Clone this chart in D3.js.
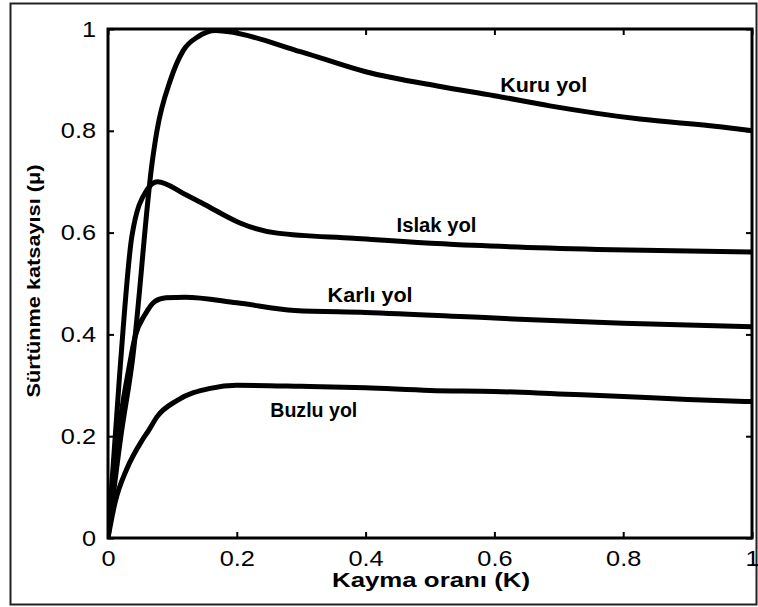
<!DOCTYPE html>
<html>
<head>
<meta charset="utf-8">
<script src="https://cdn.jsdelivr.net/npm/d3@7/dist/d3.min.js"></script>
<style>
  html, body { margin: 0; padding: 0; background: #fff; }
  svg { display: block; }
  text { font-family: "Liberation Sans", Arial, sans-serif; fill: #000; }
</style>
</head>
<body>
<script>
// ---- data ----
const xTicks = [0, 0.2, 0.4, 0.6, 0.8, 1];
const yTicks = [0, 0.2, 0.4, 0.6, 0.8, 1];
const xTickLabels = ["0", "0.2", "0.4", "0.6", "0.8", "1"];
const yTickLabels = ["0", "0.2", "0.4", "0.6", "0.8", "1"];

const seriesNames = ["Kuru yol", "Islak yol", "Karlı yol", "Buzlu yol"];

const kuruX  = [0, 0.02, 0.038, 0.069, 0.076, 0.097, 0.117, 0.14, 0.167, 0.185, 0.3, 0.4, 0.516, 0.6, 0.686, 0.826, 0.95, 1.0];
const kuruY  = [0, 0.20, 0.35, 0.742, 0.80, 0.90, 0.958, 0.985, 0.997, 0.995, 0.955, 0.916, 0.887, 0.869, 0.849, 0.823, 0.808, 0.80];

const islakX = [0, 0.018, 0.037, 0.06, 0.077, 0.117, 0.143, 0.175, 0.205, 0.263, 0.381, 0.567, 0.76, 1.0];
const islakY = [0, 0.32, 0.592, 0.683, 0.70, 0.677, 0.66, 0.638, 0.619, 0.599, 0.589, 0.575, 0.567, 0.562];

const karliX = [0, 0.01, 0.02, 0.032, 0.042, 0.058, 0.073, 0.09, 0.12, 0.2, 0.29, 0.4, 0.6, 0.8, 1.0];
const karliY = [0, 0.13, 0.24, 0.33, 0.395, 0.44, 0.465, 0.472, 0.473, 0.462, 0.447, 0.443, 0.432, 0.422, 0.415];

const buzluX = [0, 0.011, 0.029, 0.053, 0.063, 0.076, 0.107, 0.159, 0.2, 0.3, 0.4, 0.5, 0.6, 0.7, 0.8, 0.9, 1.0];
const buzluY = [0, 0.07, 0.135, 0.192, 0.211, 0.238, 0.27, 0.294, 0.30, 0.298, 0.295, 0.29, 0.288, 0.283, 0.278, 0.272, 0.268];

const xTitle = "Kayma oranı (K)";
const yTitle = "Sürtünme katsayısı (μ)";

// ---- layout ----
const W = 758, H = 607;
const L = 108, R = 752, T = 29, B = 538;

const svg = d3.select("body").append("svg").attr("width", W).attr("height", H);

function stretchTo(sel, len) {
  sel.attr("textLength", len).attr("lengthAdjust", "spacingAndGlyphs");
}
function stretchBy(sel, f) {
  sel.each(function () {
    const l = this.getComputedTextLength();
    d3.select(this).attr("textLength", l * f).attr("lengthAdjust", "spacingAndGlyphs");
  });
}

// outer border
svg.append("rect").attr("x", 10.5).attr("y", 3.5).attr("width", 746).attr("height", 601)
  .attr("fill", "none").attr("stroke", "#222").attr("stroke-width", 2);

const x = d3.scaleLinear().domain([0, 1]).range([L, R]);
const y = d3.scaleLinear().domain([0, 1]).range([B, T]);

const series = [
  { name: seriesNames[0], xs: kuruX, ys: kuruY },
  { name: seriesNames[1], xs: islakX, ys: islakY },
  { name: seriesNames[2], xs: karliX, ys: karliY },
  { name: seriesNames[3], xs: buzluX, ys: buzluY }
];

const line = d3.line().x(d => x(d[0])).y(d => y(d[1])).curve(d3.curveMonotoneX);

svg.append("defs").append("clipPath").attr("id", "clip")
  .append("rect").attr("x", L).attr("y", T - 1).attr("width", R - L).attr("height", B - T + 1);

const g = svg.append("g").attr("clip-path", "url(#clip)");
series.forEach(s => {
  g.append("path")
    .datum(s.xs.map((v, i) => [v, s.ys[i]]))
    .attr("d", line)
    .attr("fill", "none")
    .attr("stroke", "#000")
    .attr("stroke-width", 5)
    .attr("stroke-linejoin", "round")
    .attr("stroke-linecap", "round");
});

// axes (inward ticks)
const fs = 22;
const axB = svg.append("g").attr("transform", `translate(0,${B})`)
  .call(d3.axisBottom(x).tickValues(xTicks).tickFormat((d, i) => xTickLabels[i]).tickSizeInner(-6).tickSizeOuter(0).tickPadding(12));
const axT = svg.append("g").attr("transform", `translate(0,${T})`)
  .call(d3.axisTop(x).tickValues(xTicks).tickFormat("").tickSizeInner(-6).tickSizeOuter(0));
const axL = svg.append("g").attr("transform", `translate(${L},0)`)
  .call(d3.axisLeft(y).tickValues(yTicks).tickFormat((d, i) => yTickLabels[i]).tickSizeInner(-6).tickSizeOuter(0).tickPadding(12));
const axR = svg.append("g").attr("transform", `translate(${R},0)`)
  .call(d3.axisRight(y).tickValues(yTicks).tickFormat("").tickSizeInner(-6).tickSizeOuter(0));

[axB, axT, axL, axR].forEach(a => {
  a.select(".domain").remove();
  a.selectAll(".tick line").attr("stroke", "#000").attr("stroke-width", 2);
  a.selectAll(".tick text").attr("font-size", fs).attr("font-family", "Liberation Sans, Arial, sans-serif").attr("fill", "#000");
});
axB.selectAll(".tick text").attr("dy", "0.72em");
stretchBy(axB.selectAll(".tick text"), 1.15);
stretchBy(axL.selectAll(".tick text"), 1.15);

// frame
svg.append("rect").attr("x", L).attr("y", T).attr("width", R - L).attr("height", B - T)
  .attr("fill", "none").attr("stroke", "#000").attr("stroke-width", 3);

// axis titles
svg.append("text").attr("x", (L + R) / 2 + 1).attr("y", 587).attr("text-anchor", "middle")
  .attr("font-size", 20).attr("font-weight", "bold").text(xTitle)
  .call(stretchTo, 198);
svg.append("text").attr("transform", `translate(40,281) rotate(-90)`).attr("text-anchor", "middle")
  .attr("font-size", 19).attr("font-weight", "bold").text(yTitle)
  .call(stretchTo, 233);

// series labels
const labelPos = [[0.609, 0.876], [0.448, 0.601], [0.341, 0.464], [0.252, 0.238]];
const labelLen = [87, 80, 85, 87];
series.forEach((s, i) => {
  svg.append("text")
    .attr("x", x(labelPos[i][0])).attr("y", y(labelPos[i][1]))
    .attr("font-size", 20).attr("font-weight", "bold")
    .text(s.name)
    .call(stretchTo, labelLen[i]);
});
</script>
</body>
</html>
